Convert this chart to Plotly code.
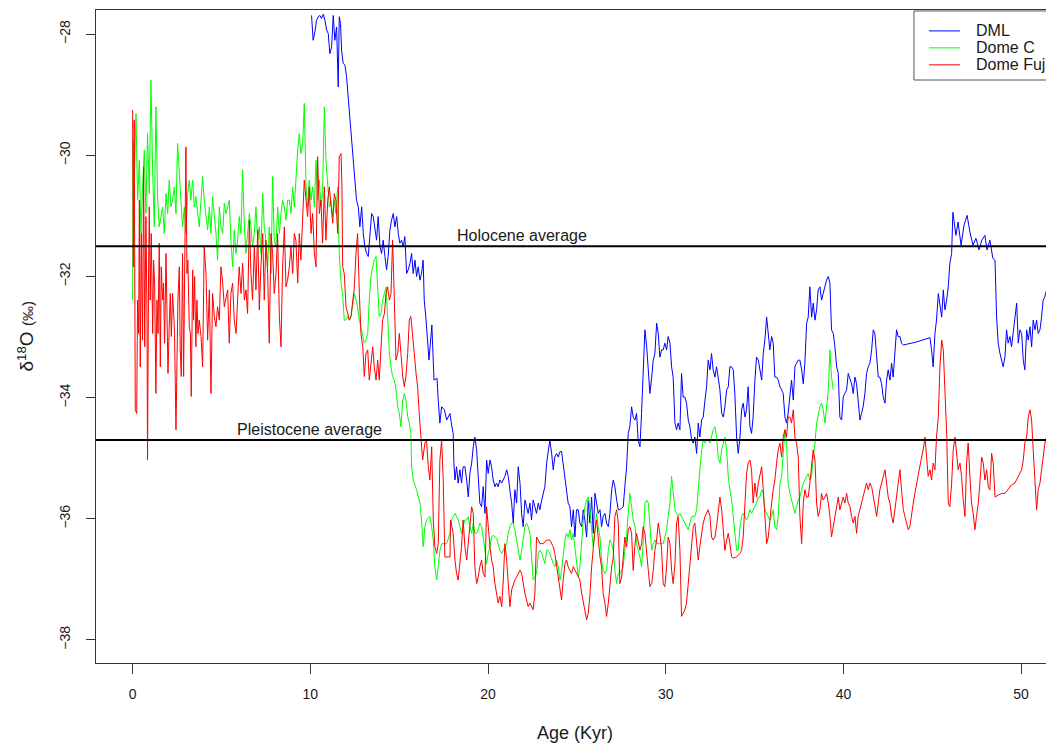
import plotly.graph_objects as go

# ---- DML ice core: age (kyr BP) and d18O (permil) ----
dml_age = [
    10.07, 10.16, 10.26, 10.35, 10.45, 10.54, 10.63, 10.73, 10.82, 10.92,
    11.01, 11.10, 11.20, 11.29, 11.38, 11.48, 11.57, 11.63, 11.70, 11.76,
    11.85, 11.95, 12.04, 12.13, 12.23, 12.32, 12.41, 12.51, 12.60, 12.70,
    12.79, 12.89, 12.98, 13.07, 13.17, 13.26, 13.35, 13.45, 13.54, 13.64,
    13.73, 13.82, 13.92, 14.01, 14.10, 14.20, 14.29, 14.38, 14.48, 14.57,
    14.67, 14.76, 14.86, 14.95, 15.04, 15.14, 15.23, 15.32, 15.42, 15.51,
    15.61, 15.70, 15.79, 15.89, 15.98, 16.07, 16.17, 16.26, 16.35, 16.41,
    16.50, 16.68, 16.84, 16.96, 17.13, 17.20, 17.29, 17.39, 17.55, 17.67,
    17.86, 17.95, 18.04, 18.08, 18.14, 18.23, 18.32, 18.42, 18.51, 18.60,
    18.70, 18.80, 18.89, 18.98, 19.08, 19.17, 19.26, 19.36, 19.45, 19.54,
    19.64, 19.73, 19.83, 19.92, 20.01, 20.11, 20.20, 20.29, 20.39, 20.48,
    20.57, 20.67, 20.77, 20.86, 20.95, 21.05, 21.14, 21.23, 21.33, 21.42,
    21.51, 21.61, 21.70, 21.80, 21.89, 21.98, 22.08, 22.17, 22.26, 22.36,
    22.45, 22.54, 22.64, 22.73, 22.83, 22.92, 23.02, 23.11, 23.20, 23.30,
    23.39, 23.48, 23.58, 23.67, 23.76, 23.86, 23.95, 24.05, 24.14, 24.23,
    24.33, 24.42, 24.51, 24.61, 24.70, 24.80, 24.89, 24.98, 25.08, 25.17,
    25.27, 25.36, 25.45, 25.55, 25.64, 25.73, 25.83, 25.92, 26.02, 26.11,
    26.20, 26.30, 26.39, 26.48, 26.58, 26.67, 26.77, 26.86, 26.96, 27.05,
    27.14, 27.24, 27.33, 27.42, 27.61, 27.70, 27.80, 27.89, 27.98, 28.08,
    28.17, 28.27, 28.36, 28.45, 28.55, 28.64, 28.73, 28.83, 28.93, 29.02,
    29.11, 29.21, 29.30, 29.39, 29.49, 29.58, 29.67, 29.77, 29.86, 29.95,
    30.05, 30.14, 30.24, 30.33, 30.42, 30.52, 30.61, 30.70, 30.80, 30.89,
    30.98, 31.08, 31.17, 31.27, 31.36, 31.46, 31.55, 31.64, 31.74, 31.83,
    31.92, 32.02, 32.11, 32.21, 32.30, 32.39, 32.49, 32.58, 32.67, 32.77,
    32.86, 32.95, 33.05, 33.15, 33.24, 33.33, 33.43, 33.52, 33.61, 33.71,
    33.80, 33.89, 33.99, 34.08, 34.18, 34.27, 34.36, 34.46, 34.55, 34.64,
    34.74, 34.83, 34.92, 35.02, 35.11, 35.21, 35.30, 35.40, 35.49, 35.58,
    35.68, 35.77, 35.86, 35.96, 36.05, 36.14, 36.24, 36.33, 36.43, 36.52,
    36.61, 36.71, 36.80, 36.89, 36.99, 37.08, 37.18, 37.27, 37.36, 37.46,
    37.55, 37.65, 37.74, 37.83, 37.93, 38.02, 38.11, 38.21, 38.30, 38.40,
    38.49, 38.58, 38.68, 38.77, 38.86, 38.96, 39.05, 39.15, 39.24, 39.33,
    39.43, 39.52, 39.62, 39.71, 39.80, 39.90, 39.99, 40.08, 40.18, 40.27,
    40.37, 40.46, 40.55, 40.65, 40.74, 40.83, 40.93, 41.02, 41.11, 41.21,
    41.30, 41.40, 41.49, 41.59, 41.68, 41.77, 41.87, 41.96, 42.05, 42.15,
    42.24, 42.34, 42.43, 42.52, 42.62, 42.71, 42.80, 42.90, 42.99, 43.08,
    43.18, 43.27, 43.37, 44.12, 44.87, 44.96, 45.05, 45.15, 45.24, 45.34,
    45.43, 45.53, 45.62, 45.71, 45.81, 45.90, 45.99, 46.09, 46.16, 46.33,
    46.45, 46.62, 46.79, 46.96, 47.12, 47.29, 47.46, 47.63, 47.79, 47.96,
    48.08, 48.24, 48.41, 48.53, 48.62, 48.71, 48.81, 48.90, 48.99, 49.09,
    49.18, 49.27, 49.37, 49.46, 49.56, 49.65, 49.75, 49.84, 49.93, 50.03,
    50.12, 50.21, 50.31, 50.40, 50.50, 50.59, 50.68, 50.78, 50.87, 50.96,
    51.06, 51.15, 51.24, 51.34, 51.43, 51.60,
]
dml_d18o = [
    -27.69, -28.10, -27.96, -27.77, -27.71, -27.69, -27.74, -27.67, -27.77, -27.93,
    -27.99, -28.32, -28.21, -27.69, -28.10, -27.88, -28.87, -27.71, -27.82, -28.26,
    -28.48, -28.51, -28.70, -29.03, -29.47, -29.80, -30.19, -30.52, -30.74, -30.85,
    -31.18, -30.85, -31.29, -31.51, -31.62, -31.67, -31.29, -30.96, -31.01, -31.23,
    -31.40, -31.01, -31.51, -31.62, -31.40, -31.67, -31.89, -31.67, -31.23, -31.07,
    -30.96, -31.18, -31.01, -31.29, -31.45, -31.40, -31.51, -31.34, -31.95, -31.89,
    -31.78, -31.62, -31.95, -31.73, -32.00, -31.84, -32.06, -31.95, -31.73, -32.39,
    -32.67, -33.38, -32.80, -33.71, -33.68, -34.04, -34.42, -34.15, -34.20, -34.37,
    -34.26, -34.45, -34.59, -35.08, -35.36, -35.14, -35.41, -35.19, -35.41, -35.14,
    -35.14, -35.36, -35.64, -35.25, -35.08, -34.81, -34.65, -34.86, -35.36, -35.74,
    -35.80, -35.47, -35.91, -35.03, -35.25, -35.03, -35.14, -35.36, -35.47, -35.41,
    -35.47, -35.36, -35.41, -35.36, -35.30, -35.19, -35.30, -35.52, -35.74, -36.07,
    -35.52, -35.74, -35.14, -35.41, -35.91, -36.13, -35.69, -35.80, -35.91, -35.74,
    -36.02, -35.69, -35.80, -35.91, -35.74, -35.85, -35.69, -35.58, -35.47, -35.08,
    -34.86, -34.70, -34.92, -35.19, -34.98, -34.92, -34.98, -34.89, -34.89, -35.08,
    -35.30, -35.52, -35.74, -35.80, -36.13, -35.85, -36.30, -35.85, -35.85, -36.07,
    -36.13, -35.85, -36.02, -36.30, -35.69, -36.07, -35.64, -36.24, -35.58, -35.74,
    -35.91, -35.85, -36.13, -35.96, -35.91, -36.07, -36.13, -35.91, -35.52, -35.36,
    -35.47, -35.69, -35.85, -35.85, -35.80, -35.47, -35.14, -34.59, -34.48, -34.15,
    -34.32, -34.37, -34.26, -34.70, -34.81, -34.26, -33.71, -32.88, -33.16, -33.49,
    -33.93, -33.66, -33.38, -33.27, -32.77, -32.94, -33.33, -33.21, -33.21, -33.10,
    -33.21, -32.99, -33.10, -33.49, -33.66, -34.42, -34.53, -34.42, -34.53, -33.60,
    -33.99, -33.99, -34.09, -34.37, -34.48, -34.70, -34.75, -34.65, -34.92, -34.42,
    -34.65, -34.37, -34.32, -34.04, -33.82, -33.38, -33.54, -33.27, -33.54, -33.66,
    -33.49, -33.66, -33.87, -34.26, -34.32, -34.15, -33.87, -33.82, -33.49, -33.49,
    -33.54, -33.93, -34.65, -34.92, -34.65, -34.20, -34.09, -34.32, -34.20, -33.82,
    -34.48, -34.59, -34.32, -33.71, -33.33, -33.38, -33.54, -33.71, -33.27, -33.05,
    -32.67, -32.99, -33.21, -32.99, -33.10, -33.66, -33.66, -33.71, -33.82, -33.87,
    -33.93, -34.32, -34.42, -34.26, -33.99, -33.71, -34.04, -33.49, -33.43, -33.38,
    -33.38, -33.54, -33.77, -33.43, -32.77, -32.67, -32.17, -32.67, -32.44, -32.72,
    -32.55, -32.22, -32.17, -32.39, -32.28, -32.17, -32.06, -32.00, -32.11, -32.88,
    -32.94, -33.16, -33.49, -33.60, -34.32, -34.37, -33.99, -33.93, -33.87, -33.60,
    -33.71, -33.77, -33.93, -33.66, -33.77, -34.09, -34.37, -34.26, -34.15, -33.93,
    -33.60, -33.49, -33.43, -33.21, -32.88, -32.94, -33.38, -33.66, -33.66, -33.77,
    -33.99, -34.09, -33.71, -33.54, -33.71, -33.43, -33.66, -33.21, -32.88, -32.99,
    -32.99, -33.10, -33.13, -33.08, -33.01, -33.21, -33.49, -32.94, -32.72, -32.28,
    -32.50, -32.67, -32.22, -32.55, -32.39, -32.17, -31.78, -31.62, -30.94, -31.32,
    -31.10, -31.48, -31.15, -30.99, -31.27, -31.48, -31.37, -31.56, -31.40, -31.32,
    -31.56, -31.40, -31.70, -31.73, -32.67, -33.10, -33.27, -33.38, -33.49, -33.33,
    -32.88, -33.10, -32.99, -33.16, -32.94, -32.67, -32.44, -33.10, -32.88, -32.94,
    -33.38, -33.54, -32.88, -33.05, -32.83, -33.16, -32.72, -32.88, -32.72, -32.94,
    -32.88, -32.67, -32.39, -32.33, -32.22, -32.10,
]

# ---- Dome C ice core ----
domec_age = [
    0.00, 0.03, 0.06, 0.09, 0.19, 0.28, 0.38, 0.47, 0.56, 0.66,
    0.75, 0.84, 0.94, 1.03, 1.13, 1.22, 1.31, 1.41, 1.50, 1.59,
    1.69, 1.78, 1.88, 1.97, 2.06, 2.16, 2.25, 2.35, 2.44, 2.53,
    2.63, 2.72, 2.81, 2.91, 3.00, 3.10, 3.19, 3.28, 3.38, 3.47,
    3.56, 3.66, 3.75, 3.85, 3.94, 4.03, 4.13, 4.22, 4.32, 4.41,
    4.50, 4.60, 4.69, 4.78, 4.88, 4.97, 5.07, 5.16, 5.25, 5.35,
    5.44, 5.53, 5.63, 5.72, 5.82, 5.91, 6.00, 6.10, 6.19, 6.29,
    6.38, 6.47, 6.57, 6.66, 6.75, 6.85, 6.94, 7.04, 7.13, 7.22,
    7.32, 7.41, 7.50, 7.60, 7.69, 7.79, 7.88, 7.97, 8.07, 8.16,
    8.26, 8.35, 8.44, 8.54, 8.63, 8.72, 8.82, 8.91, 9.01, 9.10,
    9.19, 9.29, 9.38, 9.47, 9.57, 9.66, 9.76, 9.85, 9.94, 10.04,
    10.13, 10.23, 10.32, 10.41, 10.51, 10.60, 10.69, 10.79, 10.88, 10.98,
    11.07, 11.16, 11.26, 11.35, 11.44, 11.54, 11.63, 11.73, 11.82, 11.91,
    12.01, 12.10, 12.20, 12.29, 12.38, 12.48, 12.57, 12.66, 12.76, 12.85,
    12.95, 13.04, 13.13, 13.23, 13.32, 13.41, 13.51, 13.60, 13.70, 13.79,
    13.88, 13.98, 14.07, 14.17, 14.26, 14.35, 14.45, 14.54, 14.63, 14.73,
    14.82, 14.92, 15.01, 15.10, 15.20, 15.29, 15.38, 15.48, 15.57, 15.66,
    15.70, 15.79, 15.98, 16.17, 16.26, 16.35, 16.45, 16.54, 16.73, 16.83,
    16.92, 17.01, 17.11, 17.20, 17.29, 17.39, 17.48, 17.67, 17.86, 17.95,
    18.04, 18.14, 18.23, 18.32, 18.42, 18.51, 18.60, 18.70, 18.80, 18.89,
    18.98, 19.08, 19.17, 19.26, 19.36, 19.45, 19.54, 19.64, 19.73, 19.83,
    19.92, 20.01, 20.11, 20.20, 20.29, 20.39, 20.48, 20.57, 20.67, 20.77,
    20.86, 20.95, 21.05, 21.14, 21.23, 21.33, 21.42, 21.51, 21.61, 21.70,
    21.80, 21.89, 21.98, 22.08, 22.17, 22.26, 22.36, 22.45, 22.54, 22.64,
    22.73, 22.83, 22.92, 23.02, 23.11, 23.20, 23.30, 23.39, 23.48, 23.58,
    23.67, 23.76, 23.86, 23.95, 24.05, 24.14, 24.23, 24.33, 24.42, 24.51,
    24.61, 24.70, 24.80, 24.89, 24.98, 25.08, 25.17, 25.27, 25.36, 25.45,
    25.55, 25.64, 25.73, 25.83, 25.92, 26.02, 26.11, 26.20, 26.30, 26.39,
    26.48, 26.58, 26.67, 26.77, 26.86, 26.96, 27.05, 27.14, 27.24, 27.33,
    27.42, 27.52, 27.61, 27.70, 27.80, 27.89, 27.98, 28.08, 28.17, 28.27,
    28.36, 28.45, 28.55, 28.64, 28.73, 28.83, 28.93, 29.02, 29.11, 29.21,
    29.30, 29.39, 29.49, 29.67, 29.86, 29.95, 30.05, 30.14, 30.24, 30.33,
    30.42, 30.52, 30.61, 30.70, 30.80, 30.89, 30.98, 31.08, 31.17, 31.27,
    31.36, 31.46, 31.64, 31.74, 31.83, 31.92, 32.02, 32.11, 32.21, 32.30,
    32.39, 32.49, 32.58, 32.67, 32.77, 32.86, 32.95, 33.05, 33.15, 33.24,
    33.33, 33.43, 33.52, 33.61, 33.71, 33.80, 33.89, 33.99, 34.08, 34.18,
    34.27, 34.36, 34.46, 34.55, 34.64, 34.74, 34.83, 34.92, 35.02, 35.11,
    35.21, 35.30, 35.40, 35.49, 35.58, 35.68, 35.77, 35.86, 35.96, 36.05,
    36.14, 36.24, 36.33, 36.43, 36.52, 36.61, 36.71, 36.80, 36.89, 36.99,
    37.08, 37.18, 37.27, 37.36, 37.46, 37.55, 37.65, 37.74, 37.83, 37.93,
    38.02, 38.11, 38.21, 38.30, 38.40, 38.49, 38.58, 38.68, 38.77, 38.86,
    38.96, 39.05, 39.15, 39.24, 39.33, 39.43,
]
domec_d18o = [
    -32.39, -29.75, -31.50, -30.52, -29.31, -30.74, -30.08, -31.29, -30.52, -29.91,
    -30.96, -29.64, -30.63, -28.76, -30.30, -31.18, -29.20, -30.74, -31.18, -31.01,
    -30.85, -31.29, -30.63, -30.96, -30.41, -30.85, -30.74, -30.52, -30.96, -29.80,
    -30.41, -30.74, -31.18, -30.85, -31.29, -30.63, -30.41, -30.74, -30.41, -30.85,
    -30.68, -30.96, -31.18, -30.74, -30.35, -30.74, -30.96, -31.23, -30.85, -31.29,
    -30.68, -31.01, -31.29, -31.73, -30.85, -31.18, -31.29, -30.79, -30.96, -30.85,
    -30.74, -31.40, -31.84, -31.23, -31.62, -31.40, -31.01, -31.29, -30.24, -31.18,
    -31.62, -31.29, -30.96, -31.18, -31.51, -31.29, -30.85, -31.40, -31.18, -31.62,
    -30.63, -31.18, -31.40, -31.84, -31.18, -31.95, -30.35, -31.40, -31.51, -30.85,
    -31.29, -30.96, -30.74, -30.85, -31.07, -30.74, -30.74, -30.96, -30.52, -30.85,
    -30.35, -29.91, -29.64, -29.97, -29.80, -29.14, -30.52, -30.85, -30.41, -30.74,
    -30.52, -30.85, -30.08, -30.74, -30.41, -30.85, -30.63, -29.20, -30.08, -30.52,
    -30.85, -30.74, -31.01, -30.74, -30.96, -30.52, -31.62, -32.11, -32.28, -32.72,
    -32.72, -32.66, -32.72, -32.66, -32.50, -32.28, -32.39, -32.50, -32.72, -32.83,
    -32.99, -33.10, -33.05, -32.94, -32.39, -32.00, -31.84, -31.73, -31.67, -32.17,
    -32.66, -32.61, -32.39, -32.28, -32.17, -32.66, -33.27, -33.49, -33.65, -33.71,
    -33.87, -34.15, -34.26, -34.48, -34.04, -33.93, -34.04, -34.31, -34.42, -34.59,
    -35.14, -35.36, -35.52, -35.74, -36.02, -36.46, -36.13, -36.02, -35.96, -36.13,
    -36.35, -36.79, -37.01, -36.79, -36.52, -36.41, -36.41, -36.41, -36.24, -36.02,
    -35.96, -35.91, -35.96, -36.02, -36.13, -36.24, -36.13, -36.02, -36.02, -35.96,
    -36.13, -36.24, -36.07, -36.24, -36.24, -36.18, -36.07, -36.13, -36.30, -36.57,
    -36.74, -36.57, -36.46, -36.30, -36.27, -36.30, -36.32, -36.41, -36.52, -36.57,
    -36.52, -36.46, -36.41, -36.24, -36.13, -36.07, -36.07, -36.18, -36.35, -36.52,
    -36.68, -36.52, -36.30, -36.13, -36.07, -36.13, -36.24, -36.57, -37.01, -36.96,
    -36.90, -36.57, -36.52, -36.57, -36.68, -36.74, -36.52, -36.52, -36.57, -36.68,
    -36.74, -36.79, -36.68, -36.79, -37.01, -36.85, -36.57, -36.35, -36.24, -36.30,
    -36.18, -36.35, -36.24, -36.46, -36.68, -36.96, -36.79, -36.35, -36.02, -35.80,
    -35.69, -35.64, -35.80, -36.18, -36.46, -36.18, -35.91, -36.13, -36.30, -36.68,
    -36.85, -36.90, -36.85, -36.52, -36.35, -36.41, -36.52, -36.85, -37.07, -36.90,
    -36.90, -36.85, -36.79, -36.52, -36.30, -35.91, -35.58, -35.80, -36.02, -36.13,
    -36.41, -36.52, -36.63, -36.79, -36.41, -35.74, -35.69, -35.74, -36.13, -36.52,
    -36.41, -36.35, -36.41, -36.41, -36.41, -36.30, -36.18, -35.96, -35.74, -35.30,
    -35.52, -35.85, -35.91, -35.96, -35.91, -35.96, -36.02, -36.07, -36.13, -36.18,
    -36.07, -35.96, -35.96, -35.85, -35.52, -35.19, -34.86, -34.70, -34.75, -34.70,
    -34.70, -34.75, -34.65, -34.53, -34.48, -34.65, -34.98, -35.08, -34.86, -34.75,
    -34.65, -34.86, -35.30, -35.52, -35.69, -35.96, -36.24, -36.52, -36.52, -36.13,
    -35.96, -35.91, -35.96, -36.02, -35.96, -35.85, -35.91, -35.85, -35.80, -35.74,
    -35.64, -35.64, -35.52, -35.58, -35.85, -35.91, -35.96, -36.02, -35.96, -35.85,
    -36.13, -36.18, -35.96, -35.41, -35.30, -34.98, -34.53, -34.75, -35.41, -35.58,
    -35.69, -35.80, -35.91, -35.80, -35.69, -35.64, -35.52, -35.41, -35.36, -35.30,
    -35.25, -35.36, -35.30, -34.98, -34.75, -34.42, -34.26, -34.15, -34.09, -34.20,
    -34.42, -34.20, -33.87, -33.21, -33.66, -33.87,
]

# ---- Dome Fuji ice core ----
fuji_age = [
    0.00, 0.04, 0.09, 0.15, 0.23, 0.28, 0.34, 0.38, 0.43, 0.49,
    0.56, 0.62, 0.68, 0.75, 0.81, 0.84, 0.90, 0.94, 0.99, 1.05,
    1.13, 1.18, 1.24, 1.31, 1.37, 1.43, 1.50, 1.56, 1.61, 1.69,
    1.74, 1.80, 1.88, 1.93, 1.99, 2.06, 2.12, 2.18, 2.25, 2.31,
    2.36, 2.44, 2.50, 2.55, 2.63, 2.68, 2.74, 2.81, 2.87, 2.93,
    3.00, 3.06, 3.11, 3.19, 3.25, 3.30, 3.38, 3.43, 3.49, 3.56,
    3.62, 3.68, 3.75, 3.85, 3.94, 4.03, 4.13, 4.22, 4.32, 4.41,
    4.50, 4.60, 4.69, 4.78, 4.88, 4.97, 5.07, 5.16, 5.25, 5.35,
    5.44, 5.53, 5.63, 5.72, 5.82, 5.91, 6.00, 6.10, 6.19, 6.29,
    6.38, 6.47, 6.57, 6.66, 6.75, 6.85, 6.94, 7.04, 7.13, 7.22,
    7.32, 7.41, 7.50, 7.60, 7.69, 7.79, 7.88, 7.97, 8.07, 8.16,
    8.26, 8.35, 8.44, 8.54, 8.63, 8.72, 8.82, 8.91, 9.01, 9.10,
    9.19, 9.29, 9.38, 9.47, 9.57, 9.66, 9.76, 9.85, 9.94, 10.04,
    10.13, 10.23, 10.32, 10.41, 10.51, 10.60, 10.69, 10.79, 10.88, 10.98,
    11.07, 11.16, 11.26, 11.35, 11.44, 11.54, 11.63, 11.73, 11.78, 11.82,
    11.91, 12.01, 12.10, 12.20, 12.29, 12.38, 12.48, 12.57, 12.66, 12.76,
    12.85, 12.95, 13.04, 13.13, 13.23, 13.32, 13.41, 13.51, 13.60, 13.70,
    13.79, 13.88, 13.98, 14.07, 14.17, 14.26, 14.35, 14.45, 14.54, 14.63,
    14.73, 14.82, 14.92, 15.01, 15.10, 15.20, 15.29, 15.38, 15.48, 15.57,
    15.66, 15.76, 15.85, 15.95, 16.04, 16.14, 16.23, 16.32, 16.45, 16.54,
    16.64, 16.73, 16.83, 16.92, 17.01, 17.11, 17.20, 17.29, 17.39, 17.48,
    17.57, 17.76, 17.86, 17.89, 18.04, 18.14, 18.23, 18.32, 18.42, 18.51,
    18.60, 18.70, 18.80, 18.89, 18.98, 19.08, 19.17, 19.26, 19.36, 19.45,
    19.54, 19.64, 19.73, 19.83, 19.92, 20.01, 20.11, 20.20, 20.29, 20.39,
    20.48, 20.57, 20.67, 20.77, 20.86, 20.95, 21.05, 21.14, 21.23, 21.33,
    21.42, 21.51, 21.61, 21.70, 21.80, 21.89, 21.98, 22.08, 22.17, 22.26,
    22.36, 22.45, 22.54, 22.64, 22.73, 22.83, 22.92, 23.11, 23.30, 23.48,
    23.58, 23.67, 23.76, 23.86, 23.95, 24.05, 24.14, 24.23, 24.33, 24.42,
    24.51, 24.61, 24.70, 24.80, 24.89, 24.98, 25.08, 25.17, 25.27, 25.36,
    25.45, 25.55, 25.64, 25.73, 25.83, 25.92, 26.02, 26.11, 26.20, 26.30,
    26.39, 26.48, 26.58, 26.67, 26.77, 26.86, 26.96, 27.05, 27.14, 27.24,
    27.33, 27.42, 27.52, 27.61, 27.70, 27.80, 27.89, 27.98, 28.08, 28.17,
    28.27, 28.36, 28.45, 28.55, 28.64, 28.73, 28.83, 28.93, 29.02, 29.11,
    29.21, 29.30, 29.39, 29.49, 29.58, 29.67, 29.77, 29.86, 29.95, 30.05,
    30.14, 30.24, 30.33, 30.42, 30.52, 30.61, 30.70, 30.80, 30.89, 30.98,
    31.08, 31.17, 31.27, 31.36, 31.46, 31.55, 31.64, 31.74, 31.83, 31.92,
    32.02, 32.11, 32.21, 32.30, 32.39, 32.49, 32.58, 32.67, 32.77, 32.86,
    32.95, 33.05, 33.15, 33.24, 33.33, 33.43, 33.52, 33.61, 33.71, 33.80,
    33.99, 34.18, 34.27, 34.36, 34.46, 34.55, 34.64, 34.74, 34.83, 34.92,
    35.02, 35.11, 35.21, 35.30, 35.40, 35.49, 35.58, 35.68, 35.77, 35.86,
    35.96, 36.05, 36.14, 36.24, 36.33, 36.43, 36.52, 36.61, 36.71, 36.80,
    36.89, 36.99, 37.08, 37.18, 37.27, 37.36, 37.46, 37.55, 37.65, 37.74,
    37.83, 37.93, 38.02, 38.11, 38.21, 38.30, 38.40, 38.49, 38.58, 38.68,
    38.77, 38.86, 38.96, 39.05, 39.15, 39.24, 39.33, 39.43, 39.52, 39.62,
    39.71, 39.80, 39.90, 39.99, 40.08, 40.18, 40.27, 40.37, 40.46, 40.55,
    40.65, 40.74, 40.83, 40.93, 41.02, 41.11, 41.21, 41.30, 41.40, 41.49,
    41.59, 41.68, 41.77, 41.87, 41.96, 42.05, 42.15, 42.24, 42.34, 42.43,
    42.52, 42.62, 42.71, 42.80, 42.90, 42.99, 43.08, 43.18, 43.27, 43.37,
    43.46, 43.56, 43.65, 43.74, 43.84, 43.93, 44.02, 44.12, 44.21, 44.30,
    44.40, 44.49, 44.59, 44.68, 44.77, 44.87, 44.96, 45.05, 45.15, 45.24,
    45.34, 45.43, 45.53, 45.62, 45.71, 45.81, 45.90, 45.99, 46.09, 46.18,
    46.28, 46.37, 46.46, 46.56, 46.65, 46.74, 46.84, 46.93, 47.02, 47.12,
    47.21, 47.30, 47.40, 47.49, 47.59, 47.68, 47.78, 47.87, 47.96, 48.06,
    48.15, 48.24, 48.34, 48.43, 48.53, 48.71, 48.90, 49.09, 49.27, 49.46,
    49.65, 49.84, 50.03, 50.12, 50.21, 50.31, 50.40, 50.50, 50.59, 50.68,
    50.78, 50.87, 50.96, 51.06, 51.15, 51.24, 51.34, 51.43, 51.60,
]
fuji_d18o = [
    -29.25, -31.84, -29.42, -34.20, -34.26, -32.39, -32.94, -30.74, -33.49, -31.29,
    -33.05, -30.19, -33.16, -31.01, -32.66, -35.03, -31.84, -30.85, -32.39, -31.29,
    -32.94, -31.73, -32.11, -33.93, -32.39, -32.94, -31.45, -33.49, -31.84, -32.39,
    -32.11, -33.10, -31.62, -32.66, -33.60, -32.83, -32.28, -32.99, -32.28, -32.61,
    -32.94, -34.53, -33.49, -32.39, -31.84, -33.21, -33.65, -31.62, -33.65, -31.73,
    -29.86, -31.95, -31.73, -32.83, -32.94, -33.98, -31.89, -32.72, -32.00, -33.16,
    -32.39, -32.94, -32.72, -32.99, -33.49, -31.51, -31.95, -33.05, -32.22, -33.93,
    -32.28, -32.66, -32.83, -32.50, -32.72, -31.84, -32.11, -32.50, -32.39, -32.22,
    -33.10, -32.28, -32.11, -32.72, -32.94, -32.33, -31.84, -32.28, -31.78, -32.39,
    -32.22, -32.61, -31.07, -31.95, -32.39, -31.51, -32.22, -31.23, -32.55, -31.84,
    -31.29, -32.39, -31.40, -31.95, -33.10, -31.29, -31.62, -32.28, -31.95, -31.29,
    -32.66, -33.16, -31.84, -31.18, -32.17, -32.06, -31.84, -31.51, -31.95, -31.29,
    -31.40, -32.11, -31.29, -31.73, -30.96, -30.41, -30.74, -31.01, -30.52, -31.29,
    -30.96, -31.62, -31.84, -30.02, -30.96, -30.74, -31.45, -30.52, -31.40, -30.74,
    -30.52, -30.85, -31.12, -30.63, -30.74, -31.29, -30.02, -29.97, -30.52, -31.84,
    -31.95, -32.50, -32.61, -32.72, -32.66, -32.39, -32.17, -31.62, -31.29, -32.28,
    -32.94, -33.16, -33.65, -33.27, -33.21, -33.71, -33.38, -33.16, -33.49, -33.71,
    -33.38, -33.71, -33.16, -32.72, -32.61, -32.28, -32.17, -32.39, -32.28, -31.40,
    -32.39, -33.38, -33.27, -32.94, -33.27, -33.65, -33.82, -33.65, -33.27, -32.72,
    -32.66, -32.94, -33.27, -33.60, -33.82, -34.31, -34.75, -35.03, -34.75, -34.70,
    -35.14, -35.36, -34.81, -36.02, -36.46, -36.57, -36.41, -35.03, -34.70, -35.36,
    -36.63, -36.63, -36.63, -36.02, -36.24, -36.68, -36.90, -37.01, -36.68, -36.46,
    -36.02, -36.46, -36.68, -36.41, -36.02, -35.80, -35.91, -36.79, -37.07, -36.96,
    -36.79, -36.68, -36.90, -36.96, -35.80, -36.18, -36.46, -36.68, -36.79, -37.07,
    -37.23, -37.39, -37.28, -37.45, -37.01, -36.41, -36.68, -37.12, -37.45, -37.17,
    -37.07, -37.01, -36.96, -36.90, -36.85, -36.90, -37.07, -37.23, -37.34, -37.45,
    -37.39, -37.45, -37.50, -37.23, -36.30, -36.35, -36.41, -36.41, -36.35, -36.35,
    -36.41, -36.46, -36.57, -36.79, -37.01, -37.23, -37.34, -37.01, -36.74, -36.68,
    -36.79, -36.85, -36.90, -36.79, -36.85, -36.90, -36.96, -37.01, -37.23, -37.39,
    -37.50, -37.67, -37.56, -37.28, -36.79, -36.46, -36.18, -36.02, -36.35, -36.63,
    -36.79, -37.23, -37.39, -37.61, -37.39, -37.07, -36.79, -36.63, -35.96, -35.85,
    -36.07, -37.07, -36.96, -36.63, -36.30, -36.46, -36.18, -36.13, -36.24, -36.85,
    -36.41, -36.24, -36.41, -36.52, -36.41, -36.13, -36.24, -36.63, -36.85, -37.12,
    -37.07, -36.85, -36.52, -36.35, -36.07, -36.24, -36.52, -37.07, -37.12, -36.79,
    -36.30, -36.41, -36.85, -37.07, -36.74, -36.07, -35.96, -36.52, -37.61, -37.56,
    -37.50, -37.39, -37.07, -36.79, -36.41, -36.13, -36.07, -36.35, -36.68, -36.46,
    -36.24, -36.07, -35.96, -35.91, -35.85, -35.96, -36.30, -36.35, -36.30, -36.13,
    -35.85, -35.64, -35.85, -36.18, -36.52, -36.35, -36.24, -36.41, -36.63, -36.65,
    -36.63, -36.57, -36.52, -36.30, -35.64, -35.25, -35.08, -35.03, -35.19, -35.74,
    -35.41, -35.64, -35.41, -35.25, -35.14, -35.52, -35.96, -36.41, -36.30, -35.96,
    -35.74, -35.52, -35.36, -35.08, -34.86, -34.75, -34.98, -34.65, -34.53, -34.65,
    -34.32, -34.32, -34.42, -34.20, -34.65, -34.75, -34.98, -35.96, -36.41, -35.74,
    -35.52, -35.64, -35.64, -35.41, -35.14, -34.86, -35.03, -35.74, -35.96, -35.85,
    -35.58, -35.69, -35.64, -35.58, -35.74, -35.96, -36.30, -36.13, -35.96, -35.80,
    -35.64, -35.85, -35.74, -35.64, -35.74, -35.58, -35.74, -35.80, -35.96, -36.07,
    -35.96, -36.24, -35.96, -35.85, -35.74, -35.64, -35.52, -35.41, -35.52, -35.41,
    -35.47, -35.64, -35.85, -35.96, -35.74, -35.52, -35.41, -35.30, -35.19, -35.41,
    -35.64, -35.74, -35.96, -36.07, -35.85, -35.64, -35.41, -35.19, -35.52, -35.85,
    -35.96, -36.07, -36.18, -36.13, -35.96, -35.74, -35.58, -35.41, -35.30, -35.08,
    -34.98, -34.86, -34.65, -34.98, -35.30, -35.19, -35.36, -35.08, -35.19, -34.65,
    -34.32, -33.49, -33.05, -33.21, -33.77, -34.59, -35.74, -35.80, -35.41, -34.86,
    -34.65, -34.98, -35.19, -35.08, -35.30, -35.69, -35.96, -35.08, -34.75, -35.30,
    -35.74, -35.91, -36.18, -35.96, -35.74, -35.41, -34.98, -35.08, -35.36, -35.19,
    -35.47, -35.52, -34.92, -35.08, -35.64, -35.61, -35.58, -35.58, -35.52, -35.44,
    -35.41, -35.30, -35.19, -35.03, -34.75, -34.65, -34.32, -34.20, -34.37, -34.86,
    -35.41, -35.85, -35.52, -35.41, -35.19, -34.98, -34.75, -34.65, -34.50,
]

# Reference levels and labels
holocene_avg = -31.5
pleistocene_avg = -34.7
holocene_label_age = 21.9
pleistocene_label_age = 9.95

x_ticks = [0, 10, 20, 30, 40, 50]
y_ticks = [-28, -30, -32, -34, -36, -38]

series_names = ["DML", "Dome C", "Dome Fuji"]
series_colors = ["#0000FF", "#00FF00", "#FF0000"]

FONT = "Liberation Sans, Arial, Helvetica, sans-serif"
TEXT = "#1a1a1a"
AXIS = "#333333"

fig = go.Figure()
for name, color, ages, vals in zip(
    series_names, series_colors,
    [dml_age, domec_age, fuji_age],
    [dml_d18o, domec_d18o, fuji_d18o],
):
    fig.add_trace(go.Scatter(
        x=ages, y=vals, mode="lines", name=name,
        line=dict(color=color, width=1), showlegend=False,
    ))

# Horizontal reference lines
for level in (holocene_avg, pleistocene_avg):
    fig.add_shape(type="line", xref="paper", yref="y", x0=0, x1=1,
                  y0=level, y1=level, layer="above",
                  line=dict(color="black", width=2))

fig.add_annotation(x=holocene_label_age, y=holocene_avg, xref="x", yref="y",
                   text="Holocene average", showarrow=False, yanchor="bottom",
                   font=dict(family=FONT, size=16, color=TEXT))
fig.add_annotation(x=pleistocene_label_age, y=pleistocene_avg, xref="x", yref="y",
                   text="Pleistocene average", showarrow=False, yanchor="bottom",
                   font=dict(family=FONT, size=16, color=TEXT))

# Boxed legend in the top-right corner
fig.add_shape(type="rect", xref="paper", yref="paper",
              x0=0.861, x1=1.2, y0=0.8928, y1=0.9985,
              line=dict(color="#555555", width=1), fillcolor="white", layer="above")
legend_rows = [0.9680, 0.9420, 0.9160]
for name, color, yrow in zip(series_names, series_colors, legend_rows):
    fig.add_shape(type="line", xref="paper", yref="paper",
                  x0=0.8768, x1=0.9095, y0=yrow, y1=yrow, layer="above",
                  line=dict(color=color, width=1))
    fig.add_annotation(x=0.9242, y=yrow, xref="paper", yref="paper",
                       text=name, showarrow=False, xanchor="left", yanchor="middle",
                       font=dict(family=FONT, size=16, color=TEXT))

# Axis titles
fig.add_annotation(x=0.5, y=0, xref="paper", yref="paper", xshift=4, yshift=-70,
                   text="Age (Kyr)", showarrow=False, yanchor="middle",
                   font=dict(family=FONT, size=18, color=TEXT))
fig.add_annotation(x=0, y=0.5, xref="paper", yref="paper", xshift=-71,
                   text="δ<sup>18</sup>O <span style='font-size:15px'>(‰)</span>",
                   textangle=-90, showarrow=False, xanchor="center",
                   font=dict(family=FONT, size=19, color=TEXT))

fig.update_layout(
    width=1046, height=744,
    margin=dict(l=96, r=0, t=10, b=81),
    plot_bgcolor="white", paper_bgcolor="white",
    font=dict(family=FONT, color=TEXT),
    xaxis=dict(
        range=[-2.06, 51.4], tickvals=x_ticks, ticks="outside", ticklen=10,
        tickcolor=AXIS, showline=True, linecolor=AXIS, linewidth=1, mirror=True,
        showgrid=False, zeroline=False, ticklabelstandoff=8,
        tickfont=dict(family=FONT, size=14, color=TEXT),
    ),
    yaxis=dict(
        range=[-38.38, -27.6], tickvals=y_ticks, ticks="outside", ticklen=9,
        tickcolor=AXIS, showline=True, linecolor=AXIS, linewidth=1, mirror=False,
        showgrid=False, zeroline=False, tickangle=-90, ticklabelstandoff=10,
        tickfont=dict(family=FONT, size=14, color=TEXT),
    ),
)

fig.write_html("out.html")
